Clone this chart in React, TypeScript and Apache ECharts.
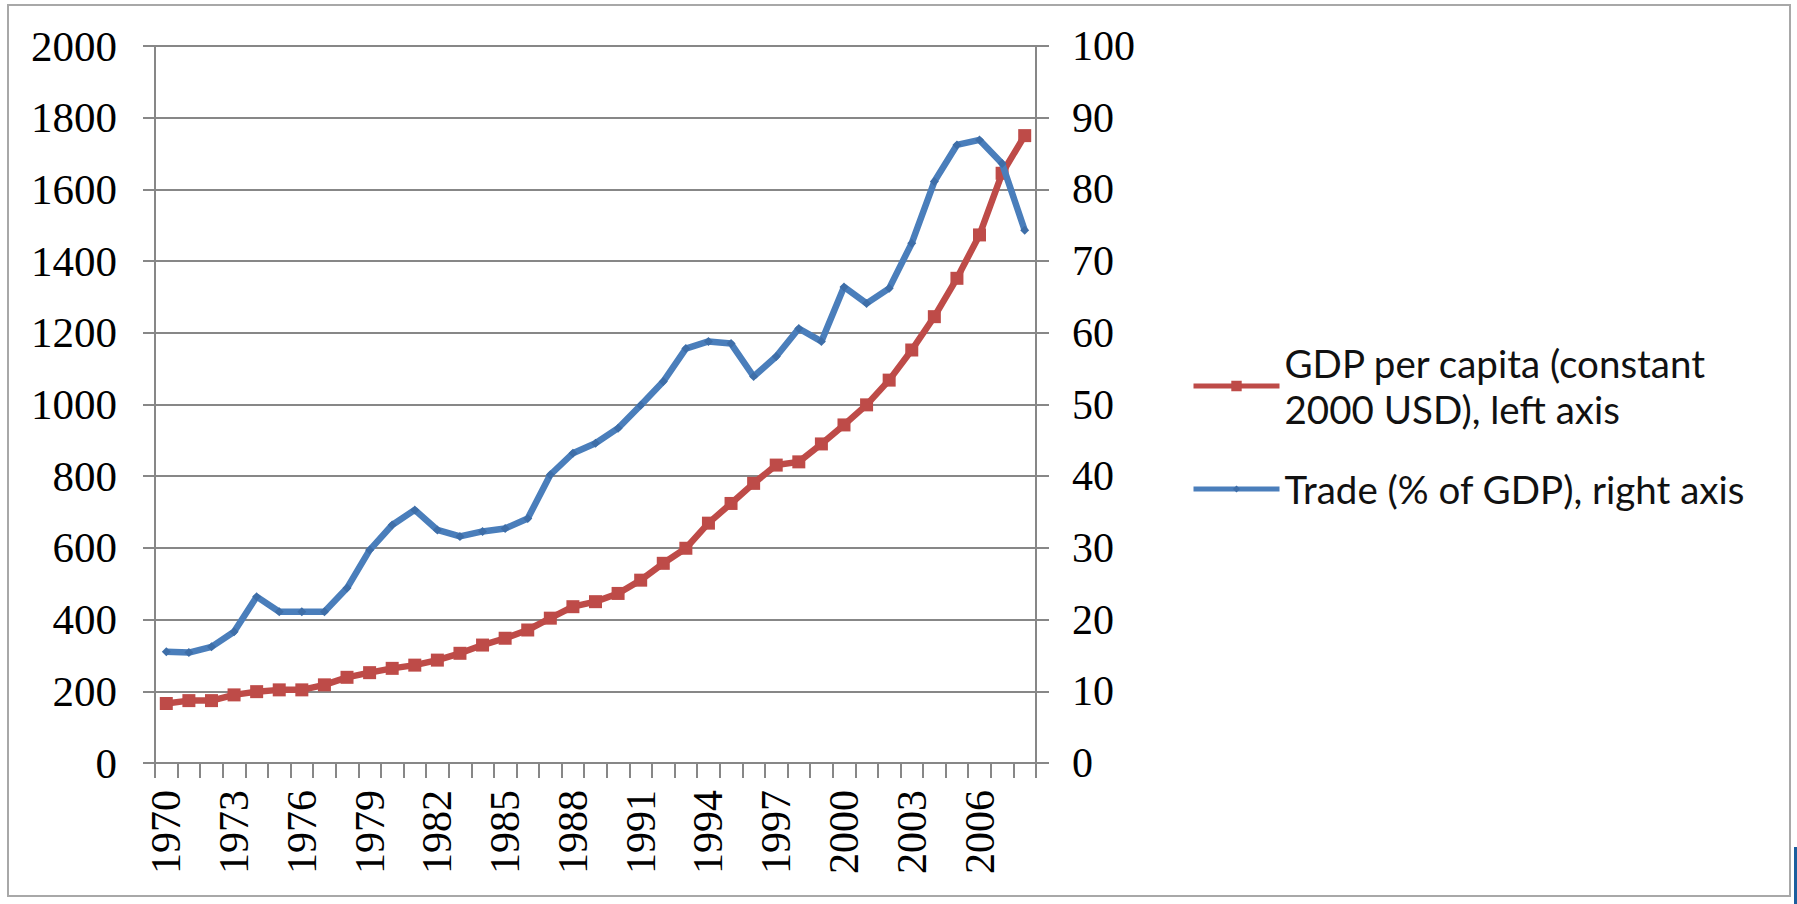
import React, { useEffect, useRef } from "react";
import * as echarts from "echarts";

const years = [
  "1970", "1971", "1972", "1973", "1974", "1975", "1976", "1977", "1978", "1979",
  "1980", "1981", "1982", "1983", "1984", "1985", "1986", "1987", "1988", "1989",
  "1990", "1991", "1992", "1993", "1994", "1995", "1996", "1997", "1998", "1999",
  "2000", "2001", "2002", "2003", "2004", "2005", "2006", "2007", "2008",
];

const gdpPerCapita = [
  166, 174, 174, 190, 199, 204, 204, 218, 239, 252,
  264, 273, 287, 306, 329, 348, 371, 404, 436, 450,
  473, 510, 557, 599, 669, 724, 780, 831, 840, 890,
  943, 999, 1068, 1152, 1245, 1352, 1473, 1645, 1750,
];

const tradePct = [
  15.5, 15.4, 16.2, 18.3, 23.2, 21.1, 21.1, 21.1, 24.4, 29.7,
  33.2, 35.3, 32.5, 31.6, 32.3, 32.7, 34.1, 40.2, 43.2, 44.6,
  46.7, 49.9, 53.2, 57.8, 58.8, 58.5, 53.9, 56.7, 60.6, 58.8,
  66.4, 64.1, 66.2, 72.5, 81.1, 86.2, 86.9, 83.6, 74.3,
];

const gdpName = "GDP per capita (constant 2000 USD), left axis";
const gdpLegendText = "GDP per capita (constant\n2000 USD), left axis";
const tradeName = "Trade (% of GDP), right axis";

const RED = "#BE4B48";
const BLUE = "#4A7EBB";
const GRID = "#878787";
const AXIS_FONT = "'Liberation Serif', 'Times New Roman', serif";
const LEGEND_FONT = "Lato, 'Open Sans', sans-serif";

export default function App() {
  const ref = useRef<HTMLDivElement>(null);

  useEffect(() => {
    if (!ref.current) return;
    const chart = echarts.init(ref.current, null, { renderer: "svg" });
    const legendText = {
      fontFamily: LEGEND_FONT,
      fontSize: 38.5,
      lineHeight: 46,
      color: "#111",
    };
    chart.setOption({
      animation: false,
      backgroundColor: "#ffffff",
      grid: { left: 155, right: 761, top: 46, bottom: 141, containLabel: false },
      graphic: [
        {
          type: "rect",
          silent: true,
          z: -10,
          shape: { x: 8, y: 5, width: 1782, height: 891 },
          style: { fill: "none", stroke: "#a8a8a8", lineWidth: 2 },
        },
        {
          type: "rect",
          silent: true,
          shape: { x: 1794, y: 847, width: 3, height: 57 },
          style: { fill: "#1b5e9e" },
        },
      ],
      legend: [
        {
          data: [gdpName],
          orient: "vertical",
          left: 1186,
          top: 321,
          itemWidth: 86,
          itemHeight: 13,
          selectedMode: false,
          formatter: () => gdpLegendText,
          lineStyle: { width: 5 },
          textStyle: { ...legendText, padding: [28, 0, 0, 0] },
        },
        {
          data: [tradeName],
          orient: "vertical",
          left: 1186,
          top: 461,
          itemWidth: 86,
          itemHeight: 9,
          selectedMode: false,
          lineStyle: { width: 5 },
          textStyle: legendText,
        },
      ],
      xAxis: {
        type: "category",
        data: years,
        boundaryGap: true,
        axisLine: { show: true, lineStyle: { color: GRID, width: 2 } },
        axisTick: { show: true, interval: 0, length: 15, lineStyle: { color: GRID, width: 2 } },
        axisLabel: {
          interval: 2,
          rotate: 90,
          margin: 27,
          fontFamily: AXIS_FONT,
          fontSize: 42,
          color: "#000",
        },
        splitLine: { show: false },
      },
      yAxis: [
        {
          type: "value",
          position: "left",
          min: 0,
          max: 2000,
          interval: 200,
          axisLine: { show: true, lineStyle: { color: GRID, width: 2 } },
          axisTick: { show: true, length: 12, lineStyle: { color: GRID, width: 2 } },
          axisLabel: {
            margin: 38,
            fontFamily: AXIS_FONT,
            fontSize: 43,
            color: "#000",
            formatter: (v: number) => String(v),
          },
          splitLine: { show: true, lineStyle: { color: GRID, width: 2 } },
        },
        {
          type: "value",
          position: "right",
          min: 0,
          max: 100,
          interval: 10,
          axisLine: { show: true, lineStyle: { color: GRID, width: 2 } },
          axisTick: { show: true, length: 13, lineStyle: { color: GRID, width: 2 } },
          axisLabel: {
            margin: 36,
            fontFamily: AXIS_FONT,
            fontSize: 42,
            color: "#000",
            formatter: (v: number) => String(v),
          },
          splitLine: { show: false },
        },
      ],
      series: [
        {
          name: gdpName,
          type: "line",
          data: gdpPerCapita,
          yAxisIndex: 0,
          symbol: "rect",
          symbolSize: 13,
          lineStyle: { color: RED, width: 6.5 },
          itemStyle: { color: RED },
          z: 2,
        },
        {
          name: tradeName,
          type: "line",
          data: tradePct,
          yAxisIndex: 1,
          symbol: "diamond",
          symbolSize: 9,
          lineStyle: { color: BLUE, width: 6.5 },
          itemStyle: { color: "#3E6EA8" },
          z: 3,
        },
      ],
    });
    return () => chart.dispose();
  }, []);

  return (
    <div
      ref={ref}
      style={{ position: "fixed", left: 0, top: 0, width: 1797, height: 904, background: "#fff" }}
    />
  );
}
